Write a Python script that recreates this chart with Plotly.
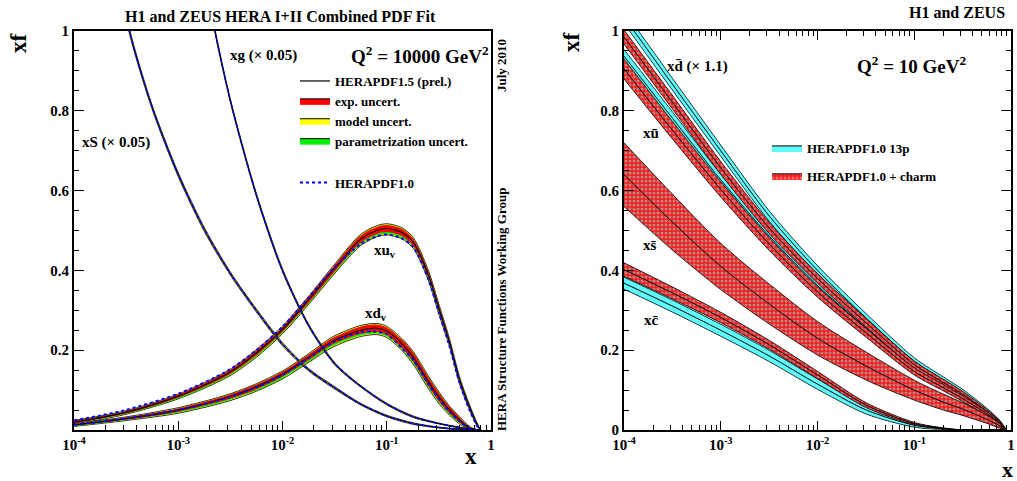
import numpy as np
import plotly.graph_objects as go

FONT = "Liberation Serif"

# ---------------- left panel : Q2 = 10000 GeV2 ----------------
X_VAL = [1e-4, 3e-4, 1e-3, 3e-3, 5.6e-3, 0.01, 0.018, 0.03, 0.056, 0.08, 0.1,
         0.14, 0.18, 0.25, 0.32, 0.4, 0.5, 0.63, 0.75, 0.8]

XUV = [0.020, 0.043, 0.085, 0.142, 0.193, 0.252, 0.328, 0.398, 0.478, 0.50, 0.505,
       0.495, 0.47, 0.39, 0.30, 0.22, 0.125, 0.054, 0.01, 0.0]
XUV_EXP = [0.003, 0.003, 0.004, 0.005, 0.006, 0.006, 0.007, 0.008, 0.009, 0.009, 0.009,
           0.009, 0.009, 0.008, 0.008, 0.007, 0.006, 0.004, 0.002, 0.0]
XUV_MOD = [0.001, 0.001, 0.001, 0.002, 0.002, 0.002, 0.002, 0.002, 0.003, 0.003, 0.003,
           0.003, 0.003, 0.003, 0.003, 0.002, 0.002, 0.002, 0.001, 0.0]
XUV_PAR = [0.001, 0.001, 0.002, 0.002, 0.003, 0.003, 0.003, 0.003, 0.004, 0.004, 0.004,
           0.004, 0.003, 0.003, 0.003, 0.002, 0.002, 0.001, 0.001, 0.0]
XUV_10 = [0.024, 0.049, 0.091, 0.149, 0.2, 0.259, 0.333, 0.401, 0.466, 0.485, 0.49,
          0.48, 0.458, 0.378, 0.29, 0.21, 0.118, 0.047, 0.007, 0.0]

XDV = [0.013, 0.028, 0.05, 0.082, 0.108, 0.14, 0.183, 0.222, 0.25, 0.255, 0.248,
       0.216, 0.182, 0.122, 0.081, 0.05, 0.025, 0.004, 0.0, 0.0]
XDV_EXP = [0.002, 0.003, 0.004, 0.005, 0.006, 0.006, 0.007, 0.008, 0.009, 0.009, 0.009,
           0.01, 0.011, 0.011, 0.01, 0.008, 0.006, 0.003, 0.0, 0.0]
XDV_MOD = [0.001, 0.001, 0.002, 0.002, 0.002, 0.002, 0.002, 0.003, 0.003, 0.003, 0.003,
           0.003, 0.003, 0.003, 0.003, 0.002, 0.002, 0.001, 0.0, 0.0]
XDV_PAR = [0.001, 0.001, 0.002, 0.003, 0.003, 0.004, 0.004, 0.004, 0.004, 0.004, 0.004,
           0.004, 0.004, 0.004, 0.003, 0.003, 0.002, 0.001, 0.0, 0.0]
XDV_10 = [0.013, 0.028, 0.05, 0.081, 0.107, 0.138, 0.181, 0.219, 0.245, 0.246, 0.24,
          0.205, 0.175, 0.115, 0.076, 0.046, 0.022, 0.003, 0.0, 0.0]

X_S = [2.5e-4, 3.4e-4, 5.6e-4, 1e-3, 1.8e-3, 3.2e-3, 5.6e-3, 0.01, 0.018, 0.032,
       0.056, 0.1, 0.18, 0.32, 0.56, 0.8]
XS = [1.18, 1.0, 0.81, 0.64, 0.50, 0.39, 0.30, 0.215, 0.15, 0.105,
      0.065, 0.035, 0.016, 0.006, 0.001, 0.0]
XS_ERR = [0.006, 0.006, 0.005, 0.005, 0.005, 0.004, 0.004, 0.004, 0.003, 0.003,
          0.002, 0.002, 0.002, 0.001, 0.001, 0.0]

X_G = [1.4e-3, 2.25e-3, 3.2e-3, 5.6e-3, 0.01, 0.018, 0.032, 0.056, 0.1, 0.18,
       0.32, 0.56, 0.8]
XG = [1.3, 1.0, 0.82, 0.59, 0.40, 0.26, 0.165, 0.11, 0.065, 0.033, 0.016, 0.004, 0.0]
XG_ERR = [0.005, 0.005, 0.004, 0.004, 0.004, 0.003, 0.003, 0.002, 0.002, 0.002,
          0.001, 0.001, 0.0]

# ---------------- right panel : Q2 = 10 GeV2 ----------------
X_R = [1e-4, 3.2e-4, 1e-3, 3.2e-3, 0.01, 0.032, 0.1, 0.2, 0.32, 0.56, 0.76, 0.87]

XDBAR_13P = [1.035, 0.865, 0.70, 0.535, 0.40, 0.28, 0.172, 0.125, 0.094, 0.05, 0.022, 0.004]
XDBAR_13P_ERR = [0.016, 0.015, 0.014, 0.013, 0.012, 0.011, 0.009, 0.008, 0.007, 0.005, 0.003, 0.001]
XDBAR_CH = [0.985, 0.82, 0.657, 0.505, 0.38, 0.268, 0.164, 0.119, 0.089, 0.047, 0.021, 0.004]
XDBAR_CH_ERR = [0.018, 0.017, 0.016, 0.014, 0.012, 0.011, 0.009, 0.008, 0.007, 0.005, 0.003, 0.001]

XUBAR_13P = [0.937, 0.78, 0.627, 0.485, 0.362, 0.255, 0.155, 0.112, 0.083, 0.044, 0.019, 0.003]
XUBAR_13P_ERR = [0.017, 0.016, 0.014, 0.013, 0.012, 0.011, 0.009, 0.008, 0.007, 0.005, 0.003, 0.001]
XUBAR_CH = [0.905, 0.75, 0.603, 0.465, 0.346, 0.243, 0.147, 0.106, 0.078, 0.041, 0.018, 0.003]
XUBAR_CH_ERR = [0.025, 0.022, 0.019, 0.016, 0.013, 0.011, 0.009, 0.008, 0.007, 0.005, 0.003, 0.001]

XSBAR_13P = [0.64, 0.52, 0.41, 0.315, 0.23, 0.16, 0.10, 0.07, 0.052, 0.027, 0.011, 0.002]
XSBAR_13P_ERR = [0.07, 0.06, 0.05, 0.043, 0.036, 0.03, 0.021, 0.017, 0.014, 0.009, 0.005, 0.001]
XSBAR_CH = [0.64, 0.52, 0.41, 0.315, 0.23, 0.16, 0.10, 0.07, 0.052, 0.027, 0.011, 0.002]
XSBAR_CH_ERR = [0.08, 0.07, 0.058, 0.05, 0.042, 0.035, 0.025, 0.02, 0.016, 0.01, 0.006, 0.001]

XCBAR_13P = [0.368, 0.31, 0.25, 0.185, 0.115, 0.05, 0.012, 0.003, 0.0, 0.0, 0.0, 0.0]
XCBAR_13P_ERR = [0.015, 0.015, 0.015, 0.014, 0.013, 0.01, 0.005, 0.002, 0.0, 0.0, 0.0, 0.0]
XCBAR_CH = [0.402, 0.343, 0.282, 0.213, 0.138, 0.062, 0.016, 0.004, 0.0, 0.0, 0.0, 0.0]
XCBAR_CH_ERR = [0.017, 0.015, 0.013, 0.011, 0.009, 0.006, 0.003, 0.001, 0.0, 0.0, 0.0, 0.0]

W, H = 1017, 481
fig = go.Figure()


def line(x, y, ax, color="black", width=1.0, dash="solid"):
    fig.add_trace(go.Scatter(
        x=x, y=y, mode="lines", xaxis="x" + ax, yaxis="y" + ax,
        line=dict(color=color, width=width, dash=dash, shape="spline", smoothing=0.8),
        showlegend=False, hoverinfo="skip"))


def band(x, lo, hi, ax, fillcolor, edge="black", ewidth=0.8, pattern=None):
    fig.add_trace(go.Scatter(
        x=x, y=lo, mode="lines", xaxis="x" + ax, yaxis="y" + ax,
        line=dict(color=edge, width=ewidth, shape="spline", smoothing=0.8),
        showlegend=False, hoverinfo="skip"))
    fig.add_trace(go.Scatter(
        x=x, y=hi, mode="lines", xaxis="x" + ax, yaxis="y" + ax,
        line=dict(color=edge, width=ewidth, shape="spline", smoothing=0.8),
        fill="tonexty", fillcolor=fillcolor, fillpattern=pattern,
        showlegend=False, hoverinfo="skip"))


# left panel bands
for xx, c, e, m, p, old in [(X_VAL, XUV, XUV_EXP, XUV_MOD, XUV_PAR, XUV_10),
                            (X_VAL, XDV, XDV_EXP, XDV_MOD, XDV_PAR, XDV_10)]:
    c, e, m, p = map(np.array, (c, e, m, p))
    band(xx, c - e - m - p, c + e + m, "", "yellow", edge="black", ewidth=0.8)
    band(xx, c - e - p, c + e, "", "#00ee00", edge="rgba(0,0,0,0)", ewidth=0)
    band(xx, c - e, c + e, "", "red", edge="rgba(0,0,0,0)", ewidth=0)
    line(xx, c, "", "black", 1.2)
    line(xx, old, "", "blue", 2, "dot")

for xx, c, e in [(X_S, XS, XS_ERR), (X_G, XG, XG_ERR)]:
    c, e = np.array(c), np.array(e)
    band(xx, c - e, c + e, "", "yellow", edge="black", ewidth=0.8)
    line(xx, c, "", "black", 1.0)
    line(xx, c, "", "blue", 1.5, "dot")

# right panel bands: 13p (cyan) first, charm (red checker) on top
CYAN = "#5ffcfc"
pat = dict(shape=".", fgcolor="#70f4f4", bgcolor="#ff1a1a", size=4, solidity=0.45)
pairs_13p = [(XDBAR_13P, XDBAR_13P_ERR), (XUBAR_13P, XUBAR_13P_ERR),
             (XSBAR_13P, XSBAR_13P_ERR), (XCBAR_13P, XCBAR_13P_ERR)]
pairs_ch = [(XDBAR_CH, XDBAR_CH_ERR), (XUBAR_CH, XUBAR_CH_ERR),
            (XSBAR_CH, XSBAR_CH_ERR), (XCBAR_CH, XCBAR_CH_ERR)]
for c, e in pairs_13p:
    c, e = np.array(c), np.array(e)
    band(X_R, c - e, c + e, "2", CYAN)
    line(X_R, c, "2", "black", 1.0)
for c, e in pairs_ch:
    c, e = np.array(c), np.array(e)
    band(X_R, c - e, c + e, "2", "#ff1a1a", pattern=pat)
    line(X_R, c, "2", "black", 1.0)

# legend entries
leg_font = dict(family=FONT, size=13, color="black", weight="bold")
fig.add_trace(go.Scatter(x=[None], y=[None], mode="lines", name="HERAPDF1.5 (prel.)",
                         line=dict(color="#333333", width=1.5), legend="legend",
                         legendgroup="a"))
for nm, col in [("exp. uncert.", "red"), ("model uncert.", "yellow"),
                ("parametrization uncert.", "#00ee00")]:
    fig.add_trace(go.Scatter(x=[None], y=[None], mode="lines", fill="toself",
                             fillcolor=col, line=dict(color="black", width=1),
                             name=nm, legend="legend", legendgroup="a"))
fig.add_trace(go.Scatter(x=[None], y=[None], mode="lines", name="HERAPDF1.0",
                         line=dict(color="blue", width=2, dash="dot"),
                         legend="legend", legendgroup="b"))
fig.add_trace(go.Scatter(x=[None], y=[None], mode="lines", fill="toself",
                         fillcolor=CYAN, line=dict(color="black", width=1),
                         name="HERAPDF1.0 13p", xaxis="x2", yaxis="y2",
                         legend="legend2", legendgroup="c"))
fig.add_trace(go.Scatter(x=[None], y=[None], mode="lines", fill="toself",
                         fillcolor="#ff1a1a",
                         fillpattern=dict(shape=".", fgcolor="#ffd0d0", bgcolor="#ff1a1a",
                                          size=4, solidity=0.35),
                         line=dict(color="black", width=1),
                         name="HERAPDF1.0 + charm", xaxis="x2", yaxis="y2",
                         legend="legend2", legendgroup="d"))

tick_font = dict(family=FONT, size=15, color="black", weight="bold")
x_major = [1e-4, 1e-3, 1e-2, 1e-1, 1]
x_text = ["10<sup>-4</sup>", "10<sup>-3</sup>", "10<sup>-2</sup>", "10<sup>-1</sup>", "1"]
x_minor = [m * 10.0 ** k for k in range(-4, 0) for m in range(2, 10)]

ydom = [1 - 430 / H, 1 - 31 / H]


def xaxis(dom, mirror, anchor):
    return dict(domain=dom, type="log", range=[-4, 0], tickvals=x_major, ticktext=x_text,
                ticks="inside", ticklen=9, tickwidth=1, tickcolor="black",
                minor=dict(tickvals=x_minor, ticks="inside", ticklen=5, tickcolor="black"),
                showline=True, linewidth=2, linecolor="black", mirror=mirror,
                showgrid=False, zeroline=False, tickfont=tick_font, anchor=anchor,
                automargin=False)


def yaxis(vals, mirror, anchor):
    return dict(domain=ydom, range=[0, 1], tickvals=vals,
                ticktext=[("%g" % v) for v in vals],
                ticks="inside", ticklen=10, tickwidth=1, tickcolor="black",
                minor=dict(tick0=0, dtick=0.05, ticks="inside", ticklen=5, tickcolor="black"),
                showline=True, linewidth=2, linecolor="black", mirror=mirror,
                showgrid=False, zeroline=False, tickfont=tick_font, anchor=anchor,
                automargin=False)


fig.update_layout(
    width=W, height=H, margin=dict(l=0, r=0, t=0, b=0, autoexpand=False),
    paper_bgcolor="white", plot_bgcolor="white",
    xaxis=xaxis([74 / W, 491 / W], True, "y"),
    yaxis=yaxis([0.2, 0.4, 0.6, 0.8, 1.0], True, "x"),
    xaxis2=xaxis([624 / W, 1011 / W], "ticks", "y2"),
    yaxis2=yaxis([0, 0.2, 0.4, 0.6, 0.8, 1.0], "ticks", "x2"),
    legend=dict(x=295 / W, y=1 - 66 / H, xanchor="left", yanchor="top",
                font=leg_font, bgcolor="rgba(0,0,0,0)", traceorder="grouped",
                tracegroupgap=22, itemwidth=30),
    legend2=dict(x=767 / W, y=1 - 133 / H, xanchor="left", yanchor="top",
                 font=leg_font, bgcolor="rgba(0,0,0,0)", traceorder="grouped",
                 tracegroupgap=8, itemwidth=30),
)


def text(x, y, s, size=14, angle=0, xanchor="center"):
    fig.add_annotation(x=x / W, y=1 - y / H, xref="paper", yref="paper", text=s,
                       showarrow=False, textangle=angle, xanchor=xanchor, yanchor="middle",
                       font=dict(family=FONT, size=size, color="black", weight="bold"))


text(280, 16, "H1 and ZEUS HERA I+II Combined PDF Fit", 16)
text(1007, 12, "H1 and ZEUS", 16, xanchor="right")
text(18, 43, "xf", 23, -90)
text(571, 42, "xf", 23, -90)
text(471, 456, "x", 23)
text(1007, 469, "x", 22)
text(263, 55, "xg (\u00d7 0.05)", 15)
text(116, 142, "xS (\u00d7 0.05)", 15)
text(420, 55, "Q<sup>2</sup> = 10000 GeV<sup>2</sup>", 19)
text(385, 251, "xu<sub>v</sub>", 15)
text(376, 314, "xd<sub>v</sub>", 15)
text(501, 66, "July 2010", 13, -90)
text(501, 310, "HERA Structure Functions Working Group", 13, -90)
text(697, 66, "xd\u0304 (\u00d7 1.1)", 15)
text(911, 65, "Q<sup>2</sup> = 10 GeV<sup>2</sup>", 19)
text(651, 133, "x\u016b", 15)
text(650, 245, "xs\u0304", 15)
text(651, 320, "xc\u0304", 15)

# the page body has a default 8px margin; remove it so the figure fills the window
fig.write_html("out.html", config={"displayModeBar": False},
               post_script="document.body.style.margin='0';")
